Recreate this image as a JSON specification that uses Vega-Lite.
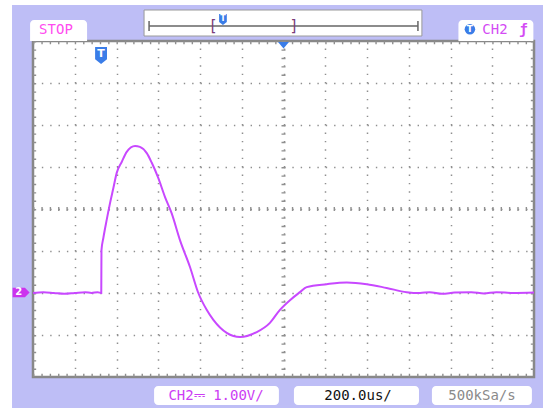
{
  "$schema": "https://vega.github.io/schema/vega-lite/v6.json",
  "width": 501,
  "height": 336,
  "autosize": {"type": "none"},
  "padding": {"left": 33, "top": 41, "right": 9, "bottom": 31},
  "background": "#bebef6",
  "config": {
    "view": {"fill": "white", "stroke": "#888888", "strokeWidth": 2.5},
    "text": {"font": "DejaVu Sans Mono"}
  },
  "layer": [
    {
      "data": {"values": [{}]},
      "layer": [
        {"mark": {"type": "rect", "color": "white"}, "encoding": {"x": {"datum": -1400}, "x2": {"datum": -1300.5}, "y": {"datum": -3.5}, "y2": {"datum": 7.5}}},
        {"mark": {"type": "rect", "color": "white"}, "encoding": {"x": {"datum": -1400}, "x2": {"datum": 1400}, "y": {"datum": 6.857}, "y2": {"datum": 7.5}}},
        {"mark": {"type": "rect", "color": "white", "cornerRadiusTopLeft": 4, "cornerRadiusTopRight": 4}, "encoding": {"x": {"datum": -1214}, "x2": {"datum": -941}, "y": {"datum": 6.5}, "y2": {"datum": 6.0}}},
        {"mark": {"type": "text", "color": "#ff4cf0", "fontSize": 14, "align": "center", "baseline": "middle"}, "encoding": {"x": {"datum": -1090}, "y": {"datum": 6.27}, "text": {"value": "STOP"}}},
        {"mark": {"type": "rect", "color": "white", "stroke": "#9a9a9a", "strokeWidth": 1}, "encoding": {"x": {"datum": -668}, "x2": {"datum": 663}, "y": {"datum": 6.738}, "y2": {"datum": 6.119}}},
        {"mark": {"type": "rule", "color": "#666666", "strokeWidth": 1.5}, "encoding": {"x": {"datum": -644}, "x2": {"datum": 644}, "y": {"datum": 6.357}}},
        {"mark": {"type": "rule", "color": "#666666", "strokeWidth": 1.5}, "encoding": {"x": {"datum": -644}, "y": {"datum": 6.476}, "y2": {"datum": 6.238}}},
        {"mark": {"type": "rule", "color": "#666666", "strokeWidth": 1.5}, "encoding": {"x": {"datum": 644}, "y": {"datum": 6.476}, "y2": {"datum": 6.238}}},
        {"mark": {"type": "text", "color": "#7a3d7a", "fontSize": 15, "align": "center", "baseline": "middle"}, "encoding": {"x": {"datum": -338}, "y": {"datum": 6.36}, "text": {"value": "["}}},
        {"mark": {"type": "text", "color": "#7a3d7a", "fontSize": 15, "align": "center", "baseline": "middle"}, "encoding": {"x": {"datum": 50}, "y": {"datum": 6.36}, "text": {"value": "]"}}},
        {"mark": {"type": "point", "filled": true, "color": "#3a7de8", "opacity": 1, "shape": "M -0.7 -1 L 0.7 -1 L 0.7 0.45 L 0 1 L -0.7 0.45 Z", "size": 121}, "encoding": {"x": {"datum": -290}, "y": {"datum": 6.512}}},
        {"mark": {"type": "text", "color": "white", "fontSize": 8, "fontWeight": "bold", "font": "DejaVu Sans", "align": "center", "baseline": "middle"}, "encoding": {"x": {"datum": -290}, "y": {"datum": 6.53}, "text": {"value": "T"}}},
        {"mark": {"type": "rect", "color": "white", "cornerRadiusTopLeft": 4, "cornerRadiusTopRight": 4}, "encoding": {"x": {"datum": 838}, "x2": {"datum": 1197}, "y": {"datum": 6.5}, "y2": {"datum": 6.0}}},
        {"mark": {"type": "point", "filled": true, "shape": "circle", "color": "#3a7de8", "opacity": 1, "size": 110}, "encoding": {"x": {"datum": 893}, "y": {"datum": 6.28}}},
        {"mark": {"type": "text", "color": "white", "fontSize": 9, "fontWeight": "bold", "font": "DejaVu Sans", "align": "center", "baseline": "middle"}, "encoding": {"x": {"datum": 893}, "y": {"datum": 6.29}, "text": {"value": "T"}}},
        {"mark": {"type": "text", "color": "#d44cf4", "fontSize": 14, "align": "center", "baseline": "middle"}, "encoding": {"x": {"datum": 1013}, "y": {"datum": 6.27}, "text": {"value": "CH2"}}},
        {"mark": {"type": "text", "color": "#d44cf4", "fontSize": 14, "fontWeight": "bold", "align": "center", "baseline": "middle"}, "encoding": {"x": {"datum": 1150}, "y": {"datum": 6.27}, "text": {"value": "ƒ"}}},
        {"mark": {"type": "rect", "color": "white", "cornerRadius": 4}, "encoding": {"x": {"datum": -620}, "x2": {"datum": -22}, "y": {"datum": -2.214}, "y2": {"datum": -2.667}}},
        {"mark": {"type": "rect", "color": "white", "cornerRadius": 4}, "encoding": {"x": {"datum": 50}, "x2": {"datum": 649}, "y": {"datum": -2.214}, "y2": {"datum": -2.667}}},
        {"mark": {"type": "rect", "color": "white", "cornerRadius": 4}, "encoding": {"x": {"datum": 711}, "x2": {"datum": 1190}, "y": {"datum": -2.214}, "y2": {"datum": -2.667}}},
        {"mark": {"type": "text", "color": "#cc3cf4", "fontSize": 14, "align": "center", "baseline": "middle"}, "encoding": {"x": {"datum": -323}, "y": {"datum": -2.45}, "text": {"value": "CH2⎓  1.00V/"}}},
        {"mark": {"type": "text", "color": "#111111", "fontSize": 14, "align": "center", "baseline": "middle"}, "encoding": {"x": {"datum": 357}, "y": {"datum": -2.45}, "text": {"value": "200.0us/"}}},
        {"mark": {"type": "text", "color": "#8a8a8a", "fontSize": 14, "align": "center", "baseline": "middle"}, "encoding": {"x": {"datum": 951}, "y": {"datum": -2.45}, "text": {"value": "500kSa/s"}}},
        {"mark": {"type": "point", "filled": true, "color": "#cc33ee", "opacity": 1, "shape": "M -1 -0.55 L 0.45 -0.55 L 1 0 L 0.45 0.55 L -1 0.55 Z", "size": 289}, "encoding": {"x": {"datum": -1257}, "y": {"datum": 0.012}}},
        {"mark": {"type": "text", "color": "white", "fontSize": 10, "fontWeight": "bold", "font": "DejaVu Sans", "align": "center", "baseline": "middle"}, "encoding": {"x": {"datum": -1268}, "y": {"datum": 0.02}, "text": {"value": "2"}}},
        {"mark": {"type": "rule", "color": "#8f8f8f", "strokeWidth": 4, "strokeDash": [1.4, 7.0]}, "encoding": {"x": {"datum": 0}, "y": {"datum": 6}, "y2": {"datum": -2}}},
        {"mark": {"type": "rule", "color": "#8f8f8f", "strokeWidth": 4, "strokeDash": [1.4, 6.95]}, "encoding": {"x": {"datum": -1200}, "x2": {"datum": 1200}, "y": {"datum": 2}}},
        {"mark": {"type": "rule", "color": "#8f8f8f", "strokeWidth": 3, "strokeDash": [1.4, 6.95]}, "encoding": {"x": {"datum": -1200}, "x2": {"datum": 1200}, "y": {"datum": 5.96}}},
        {"mark": {"type": "rule", "color": "#8f8f8f", "strokeWidth": 3, "strokeDash": [1.4, 6.95]}, "encoding": {"x": {"datum": -1200}, "x2": {"datum": 1200}, "y": {"datum": -1.96}}},
        {"mark": {"type": "rule", "color": "#8f8f8f", "strokeWidth": 3, "strokeDash": [1.4, 7.0]}, "encoding": {"x": {"datum": -1192}, "y": {"datum": 6}, "y2": {"datum": -2}}},
        {"mark": {"type": "rule", "color": "#8f8f8f", "strokeWidth": 3, "strokeDash": [1.4, 7.0]}, "encoding": {"x": {"datum": 1192}, "y": {"datum": 6}, "y2": {"datum": -2}}},
        {"mark": {"type": "point", "filled": true, "color": "#3a7de8", "opacity": 1, "shape": "M -1 -0.6 L 1 -0.6 L 0 0.6 Z", "size": 121}, "encoding": {"x": {"datum": 0}, "y": {"datum": 5.9}}},
        {"mark": {"type": "point", "filled": true, "color": "#3a7de8", "opacity": 1, "shape": "M -0.7 -1 L 0.7 -1 L 0.7 0.45 L 0 1 L -0.7 0.45 Z", "size": 289}, "encoding": {"x": {"datum": -874}, "y": {"datum": 5.655}}},
        {"mark": {"type": "text", "color": "white", "fontSize": 11, "fontWeight": "bold", "font": "DejaVu Sans", "align": "center", "baseline": "middle"}, "encoding": {"x": {"datum": -874}, "y": {"datum": 5.7}, "text": {"value": "T"}}}
      ]
    },
    {
      "data": {
        "values": [
          {"t": -1200, "v": 0}, {"t": -1150, "v": 0.02}, {"t": -1100, "v": 0}, {"t": -1050, "v": -0.02},
          {"t": -1000, "v": 0}, {"t": -950, "v": 0.02}, {"t": -920, "v": 0}, {"t": -890, "v": 0.02},
          {"t": -873, "v": 0}, {"t": -872, "v": 1.02}, {"t": -863, "v": 1.31}, {"t": -847, "v": 1.74},
          {"t": -831, "v": 2.14}, {"t": -815, "v": 2.5}, {"t": -799, "v": 2.86}, {"t": -775, "v": 3.12},
          {"t": -751, "v": 3.36}, {"t": -711, "v": 3.5}, {"t": -688, "v": 3.48}, {"t": -655, "v": 3.33},
          {"t": -631, "v": 3.1}, {"t": -600, "v": 2.74}, {"t": -568, "v": 2.29}, {"t": -536, "v": 1.9},
          {"t": -496, "v": 1.26}, {"t": -448, "v": 0.62}, {"t": -408, "v": 0}, {"t": -368, "v": -0.4},
          {"t": -336, "v": -0.64}, {"t": -272, "v": -0.95}, {"t": -208, "v": -1.05}, {"t": -128, "v": -0.93},
          {"t": -65, "v": -0.71}, {"t": -17, "v": -0.4}, {"t": 31, "v": -0.17}, {"t": 79, "v": 0.02},
          {"t": 111, "v": 0.14}, {"t": 207, "v": 0.21}, {"t": 303, "v": 0.25}, {"t": 399, "v": 0.21},
          {"t": 494, "v": 0.12}, {"t": 590, "v": 0.02}, {"t": 654, "v": 0}, {"t": 700, "v": 0.02},
          {"t": 760, "v": -0.02}, {"t": 820, "v": 0.01}, {"t": 900, "v": 0.02}, {"t": 960, "v": -0.01},
          {"t": 1020, "v": 0.02}, {"t": 1100, "v": 0}, {"t": 1200, "v": 0.01}
        ]
      },
      "mark": {"type": "line", "color": "#c848ff", "strokeWidth": 2, "interpolate": "monotone"},
      "encoding": {
        "x": {"field": "t", "type": "quantitative", "scale": {"domain": [-1200, 1200], "nice": false, "zero": false},
          "axis": {"title": null, "values": [-1000, -800, -600, -400, -200, 0, 200, 400, 600, 800, 1000], "grid": true, "gridDash": [1.4, 7.0], "gridColor": "#8f8f8f", "gridWidth": 1.5, "domain": false, "ticks": false, "labels": false, "orient": "top"}},
        "y": {"field": "v", "type": "quantitative", "scale": {"domain": [-2, 6], "nice": false, "zero": false},
          "axis": {"title": null, "values": [-1, 0, 1, 2, 3, 4, 5], "grid": true, "gridDash": [1.4, 6.95], "gridColor": "#8f8f8f", "gridWidth": 1.5, "domain": false, "ticks": false, "labels": false}}
      }
    }
  ]
}
